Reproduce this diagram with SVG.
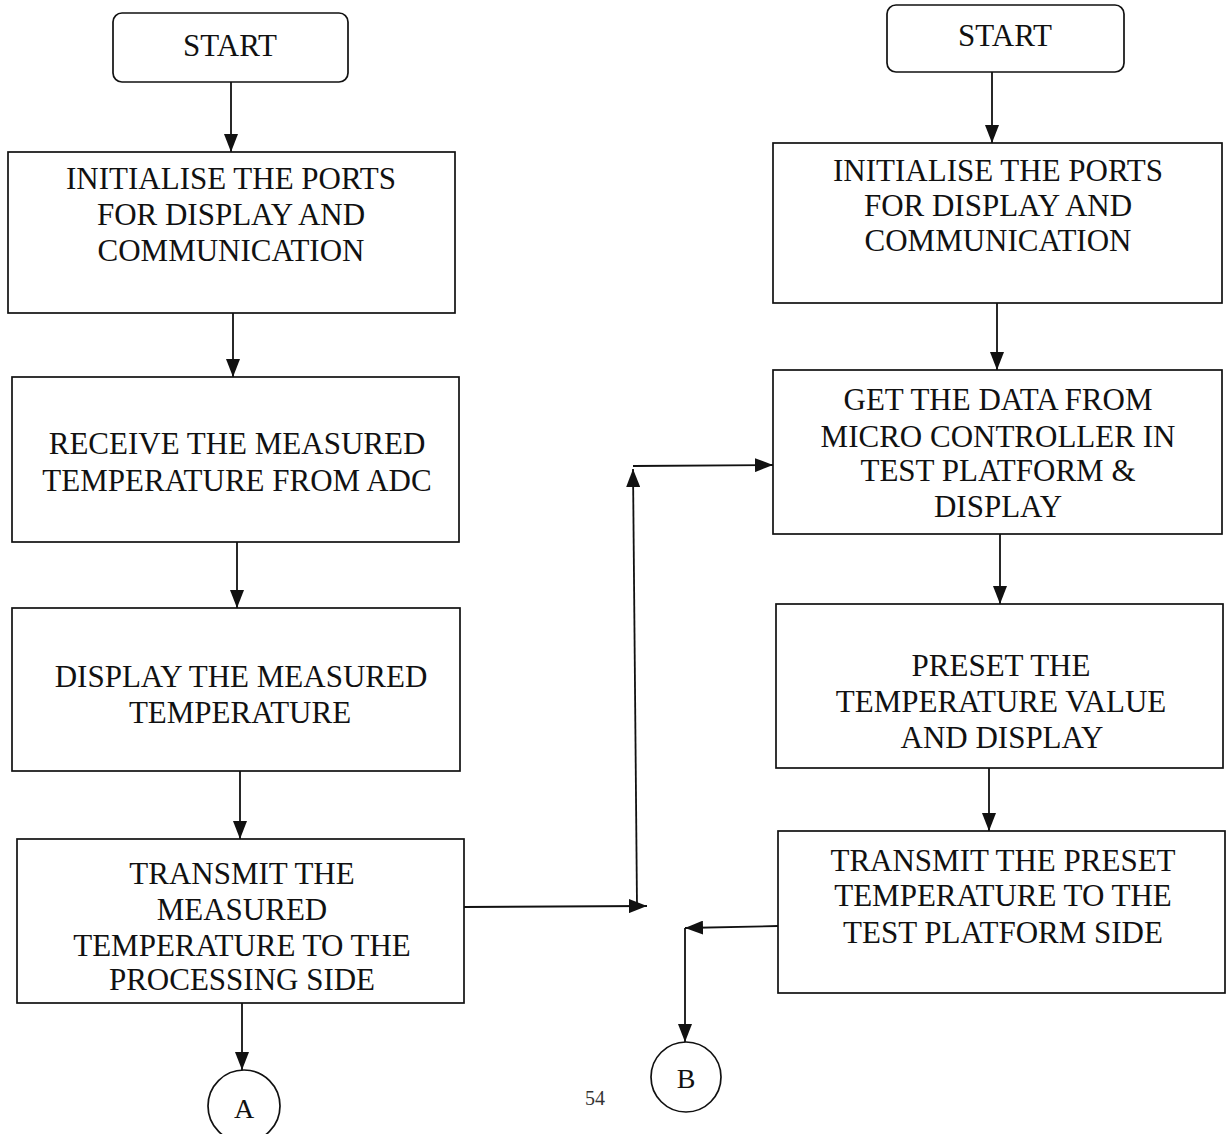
<svg xmlns="http://www.w3.org/2000/svg" width="1232" height="1134" viewBox="0 0 1232 1134">
  <style>
    .box { fill: #ffffff; stroke: #111111; stroke-width: 1.7; }
    .lbl { font-family: "Liberation Serif", "Times New Roman", serif; font-size: 31px; fill: #111111; text-anchor: middle; }
    .cir { font-family: "Liberation Serif", "Times New Roman", serif; font-size: 28px; fill: #111111; text-anchor: middle; }
    .wire { fill: none; stroke: #111111; stroke-width: 1.8; }
    .page { font-family: "Liberation Serif", "Times New Roman", serif; font-size: 20px; fill: #333333; text-anchor: middle; }
  </style>
  <defs>
    <marker id="arrow" viewBox="0 0 18 14" refX="18" refY="7" markerWidth="18" markerHeight="14" markerUnits="userSpaceOnUse" orient="auto">
      <path d="M0,0 L18,7 L0,14 Z" fill="#111111"/>
    </marker>
  </defs>
  <rect width="1232" height="1134" fill="#ffffff"/>

  <!-- left column: measurement side -->
  <g id="left-start">
    <rect class="box" x="113" y="13" width="235" height="69" rx="9"/>
    <text class="lbl" x="230" y="56">START</text>
  </g>
  <g id="left-init">
    <rect class="box" x="8" y="152" width="447" height="161"/>
    <text class="lbl" x="231" y="189">INITIALISE THE PORTS</text>
    <text class="lbl" x="231" y="225">FOR DISPLAY AND</text>
    <text class="lbl" x="231" y="261">COMMUNICATION</text>
  </g>
  <g id="left-receive">
    <rect class="box" x="12" y="377" width="447" height="165"/>
    <text class="lbl" x="237" y="454">RECEIVE THE MEASURED</text>
    <text class="lbl" x="237" y="491">TEMPERATURE FROM ADC</text>
  </g>
  <g id="left-display">
    <rect class="box" x="12" y="608" width="448" height="163"/>
    <text class="lbl" x="241" y="687">DISPLAY THE MEASURED</text>
    <text class="lbl" x="240" y="723">TEMPERATURE</text>
  </g>
  <g id="left-transmit">
    <rect class="box" x="17" y="839" width="447" height="164"/>
    <text class="lbl" x="242" y="884">TRANSMIT THE</text>
    <text class="lbl" x="242" y="920">MEASURED</text>
    <text class="lbl" x="242" y="956">TEMPERATURE TO THE</text>
    <text class="lbl" x="242" y="990">PROCESSING SIDE</text>
  </g>
  <g id="connector-a">
    <circle class="box" cx="244" cy="1106" r="36"/>
    <text class="cir" x="244" y="1118">A</text>
  </g>

  <!-- right column: processing side -->
  <g id="right-start">
    <rect class="box" x="887" y="5" width="237" height="67" rx="9"/>
    <text class="lbl" x="1005" y="46">START</text>
  </g>
  <g id="right-init">
    <rect class="box" x="773" y="143" width="449" height="160"/>
    <text class="lbl" x="998" y="181">INITIALISE THE PORTS</text>
    <text class="lbl" x="998" y="216">FOR DISPLAY AND</text>
    <text class="lbl" x="998" y="251">COMMUNICATION</text>
  </g>
  <g id="right-get">
    <rect class="box" x="773" y="370" width="449" height="164"/>
    <text class="lbl" x="998" y="410">GET THE DATA FROM</text>
    <text class="lbl" x="998" y="447">MICRO CONTROLLER IN</text>
    <text class="lbl" x="998" y="481">TEST PLATFORM &amp;</text>
    <text class="lbl" x="998" y="517">DISPLAY</text>
  </g>
  <g id="right-preset">
    <rect class="box" x="776" y="604" width="447" height="164"/>
    <text class="lbl" x="1001" y="676">PRESET THE</text>
    <text class="lbl" x="1001" y="712">TEMPERATURE VALUE</text>
    <text class="lbl" x="1002" y="748">AND DISPLAY</text>
  </g>
  <g id="right-transmit">
    <rect class="box" x="778" y="831" width="447" height="162"/>
    <text class="lbl" x="1003" y="871">TRANSMIT THE PRESET</text>
    <text class="lbl" x="1003" y="906">TEMPERATURE TO THE</text>
    <text class="lbl" x="1003" y="943">TEST PLATFORM SIDE</text>
  </g>
  <g id="connector-b">
    <circle class="box" cx="686" cy="1077" r="35"/>
    <text class="cir" x="686" y="1088">B</text>
  </g>

  <text class="page" x="595" y="1105">54</text>

  <!-- flow lines -->
  <g id="connectors">
    <line class="wire" x1="231" y1="82" x2="231" y2="152" marker-end="url(#arrow)"/>
    <line class="wire" x1="233" y1="313" x2="233" y2="377" marker-end="url(#arrow)"/>
    <line class="wire" x1="237" y1="542" x2="237" y2="608" marker-end="url(#arrow)"/>
    <line class="wire" x1="240" y1="771" x2="240" y2="839" marker-end="url(#arrow)"/>
    <line class="wire" x1="242" y1="1003" x2="242" y2="1070" marker-end="url(#arrow)"/>

    <line class="wire" x1="464" y1="907" x2="647" y2="906" marker-end="url(#arrow)"/>
    <line class="wire" x1="637" y1="906" x2="633" y2="469" marker-end="url(#arrow)"/>
    <line class="wire" x1="633" y1="466" x2="773" y2="465" marker-end="url(#arrow)"/>

    <line class="wire" x1="992" y1="72" x2="992" y2="143" marker-end="url(#arrow)"/>
    <line class="wire" x1="997" y1="303" x2="997" y2="370" marker-end="url(#arrow)"/>
    <line class="wire" x1="1000" y1="534" x2="1000" y2="604" marker-end="url(#arrow)"/>
    <line class="wire" x1="989" y1="768" x2="989" y2="831" marker-end="url(#arrow)"/>

    <line class="wire" x1="778" y1="926" x2="685" y2="928" marker-end="url(#arrow)"/>
    <line class="wire" x1="685" y1="928" x2="685" y2="1042" marker-end="url(#arrow)"/>
  </g>
</svg>
